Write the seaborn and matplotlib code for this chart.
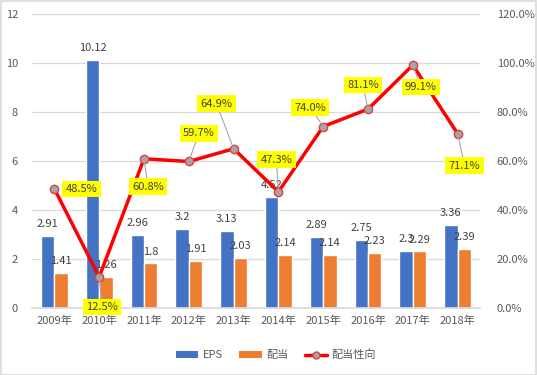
import numpy as np
import pandas as pd
import matplotlib
matplotlib.use("Agg")
import matplotlib.pyplot as plt
import seaborn as sns
from matplotlib.patches import Patch, Rectangle
from matplotlib.lines import Line2D
from matplotlib.ticker import FuncFormatter

years = ["2009年", "2010年", "2011年", "2012年", "2013年", "2014年", "2015年", "2016年", "2017年", "2018年"]
eps = [2.91, 10.12, 2.96, 3.2, 3.13, 4.52, 2.89, 2.75, 2.3, 3.36]
dividend = [1.41, 1.26, 1.8, 1.91, 2.03, 2.14, 2.14, 2.23, 2.29, 2.39]
payout = [48.5, 12.5, 60.8, 59.7, 64.9, 47.3, 74.0, 81.1, 99.1, 71.1]
series_names = ["EPS", "配当", "配当性向"]

# label offsets in pixels for payout labels (dx, dy)
label_offsets = [(27, 0), (3, -30), (4, -28), (10, 28), (-17, 45), (-2, 32), (-13, 19), (-5, 24), (8, -22), (7, -32)]

sns.set_theme(style="white")
plt.rcParams["font.family"] = ["Noto Sans CJK JP", "DejaVu Sans"]

BLUE = "#4472C4"
ORANGE = "#ED7D31"
RED = "#FF0000"
GRAY_M = "#A5A5A5"
TXT = "#595959"
LBL = "#404040"
GRID = "#D9D9D9"

fig = plt.figure(figsize=(5.37, 3.75), dpi=100)
ax = fig.add_axes([32 / 537, (375 - 307.5) / 375, (480 - 32) / 537, (307.5 - 14) / 375])

df = pd.DataFrame({
    "year": years * 2,
    "value": eps + dividend,
    "series": [series_names[0]] * len(years) + [series_names[1]] * len(years),
})
sns.barplot(data=df, x="year", y="value", hue="series", palette=[BLUE, ORANGE],
            width=0.6, ax=ax, legend=False, saturation=1)

ax.set_ylim(0, 12)
ax.set_yticks(np.arange(0, 13, 2))
ax.set_xlim(-0.5, len(years) - 0.5)
ax.yaxis.grid(True, color=GRID, linewidth=0.9)
ax.set_axisbelow(True)
for s in ["top", "right", "left"]:
    ax.spines[s].set_visible(False)
ax.spines["bottom"].set_color(GRID)
ax.set_xlabel("")
ax.set_ylabel("")
ax.tick_params(axis="both", length=0, labelsize=8, colors=TXT)
ax.tick_params(axis="x", pad=6)
ax.tick_params(axis="y", pad=10)

# bar data labels
for cont in ax.containers:
    ax.bar_label(cont, labels=[f"{v.get_height():g}" for v in cont], padding=5, fontsize=8, color=LBL)

ax2 = ax.twinx()
xpos = np.arange(len(years))
sns.lineplot(x=xpos, y=payout, ax=ax2, color=RED, linewidth=2.5, marker="o",
             markersize=6, markerfacecolor=GRAY_M, markeredgecolor="#E04040", markeredgewidth=1)
ax2.set_ylim(0, 120)
ax2.set_yticks(np.arange(0, 121, 20))
ax2.yaxis.set_major_formatter(FuncFormatter(lambda v, p: f"{v:.1f}%"))
for s in ["top", "right", "left", "bottom"]:
    ax2.spines[s].set_visible(False)
ax2.tick_params(axis="y", length=0, labelsize=8, colors=TXT, pad=12)
ax2.set_ylabel("")

for i, (v, (dx, dy)) in enumerate(zip(payout, label_offsets)):
    arrow = None if i == 0 else dict(arrowstyle="-", color="#A6A6A6", linewidth=0.8, shrinkA=0, shrinkB=2)
    ax2.annotate(f"{v:.1f}%", xy=(xpos[i], v), xytext=(dx, dy), textcoords="offset pixels",
                 ha="center", va="center", fontsize=8, color=LBL,
                 bbox=dict(boxstyle="square,pad=0.3", fc="#FFFF00", ec="none"),
                 arrowprops=arrow, zorder=5)

handles = [
    Patch(facecolor=BLUE, edgecolor="none"),
    Patch(facecolor=ORANGE, edgecolor="none"),
    Line2D([0], [0], color=RED, linewidth=2.5, marker="o", markersize=5,
           markerfacecolor=GRAY_M, markeredgecolor="#E04040"),
]
fig.legend(handles, series_names, loc="center", bbox_to_anchor=(276 / 537, 1 - 355 / 375),
           ncol=3, frameon=False, fontsize=8, labelcolor=TXT, handlelength=2.0,
           handleheight=0.5, columnspacing=1.5, handletextpad=0.4)

fig.add_artist(Rectangle((0.001, 0.001), 0.997, 0.997, transform=fig.transFigure,
                         fill=False, edgecolor=GRID, linewidth=1.2))

fig.savefig("out.png", dpi=100)
